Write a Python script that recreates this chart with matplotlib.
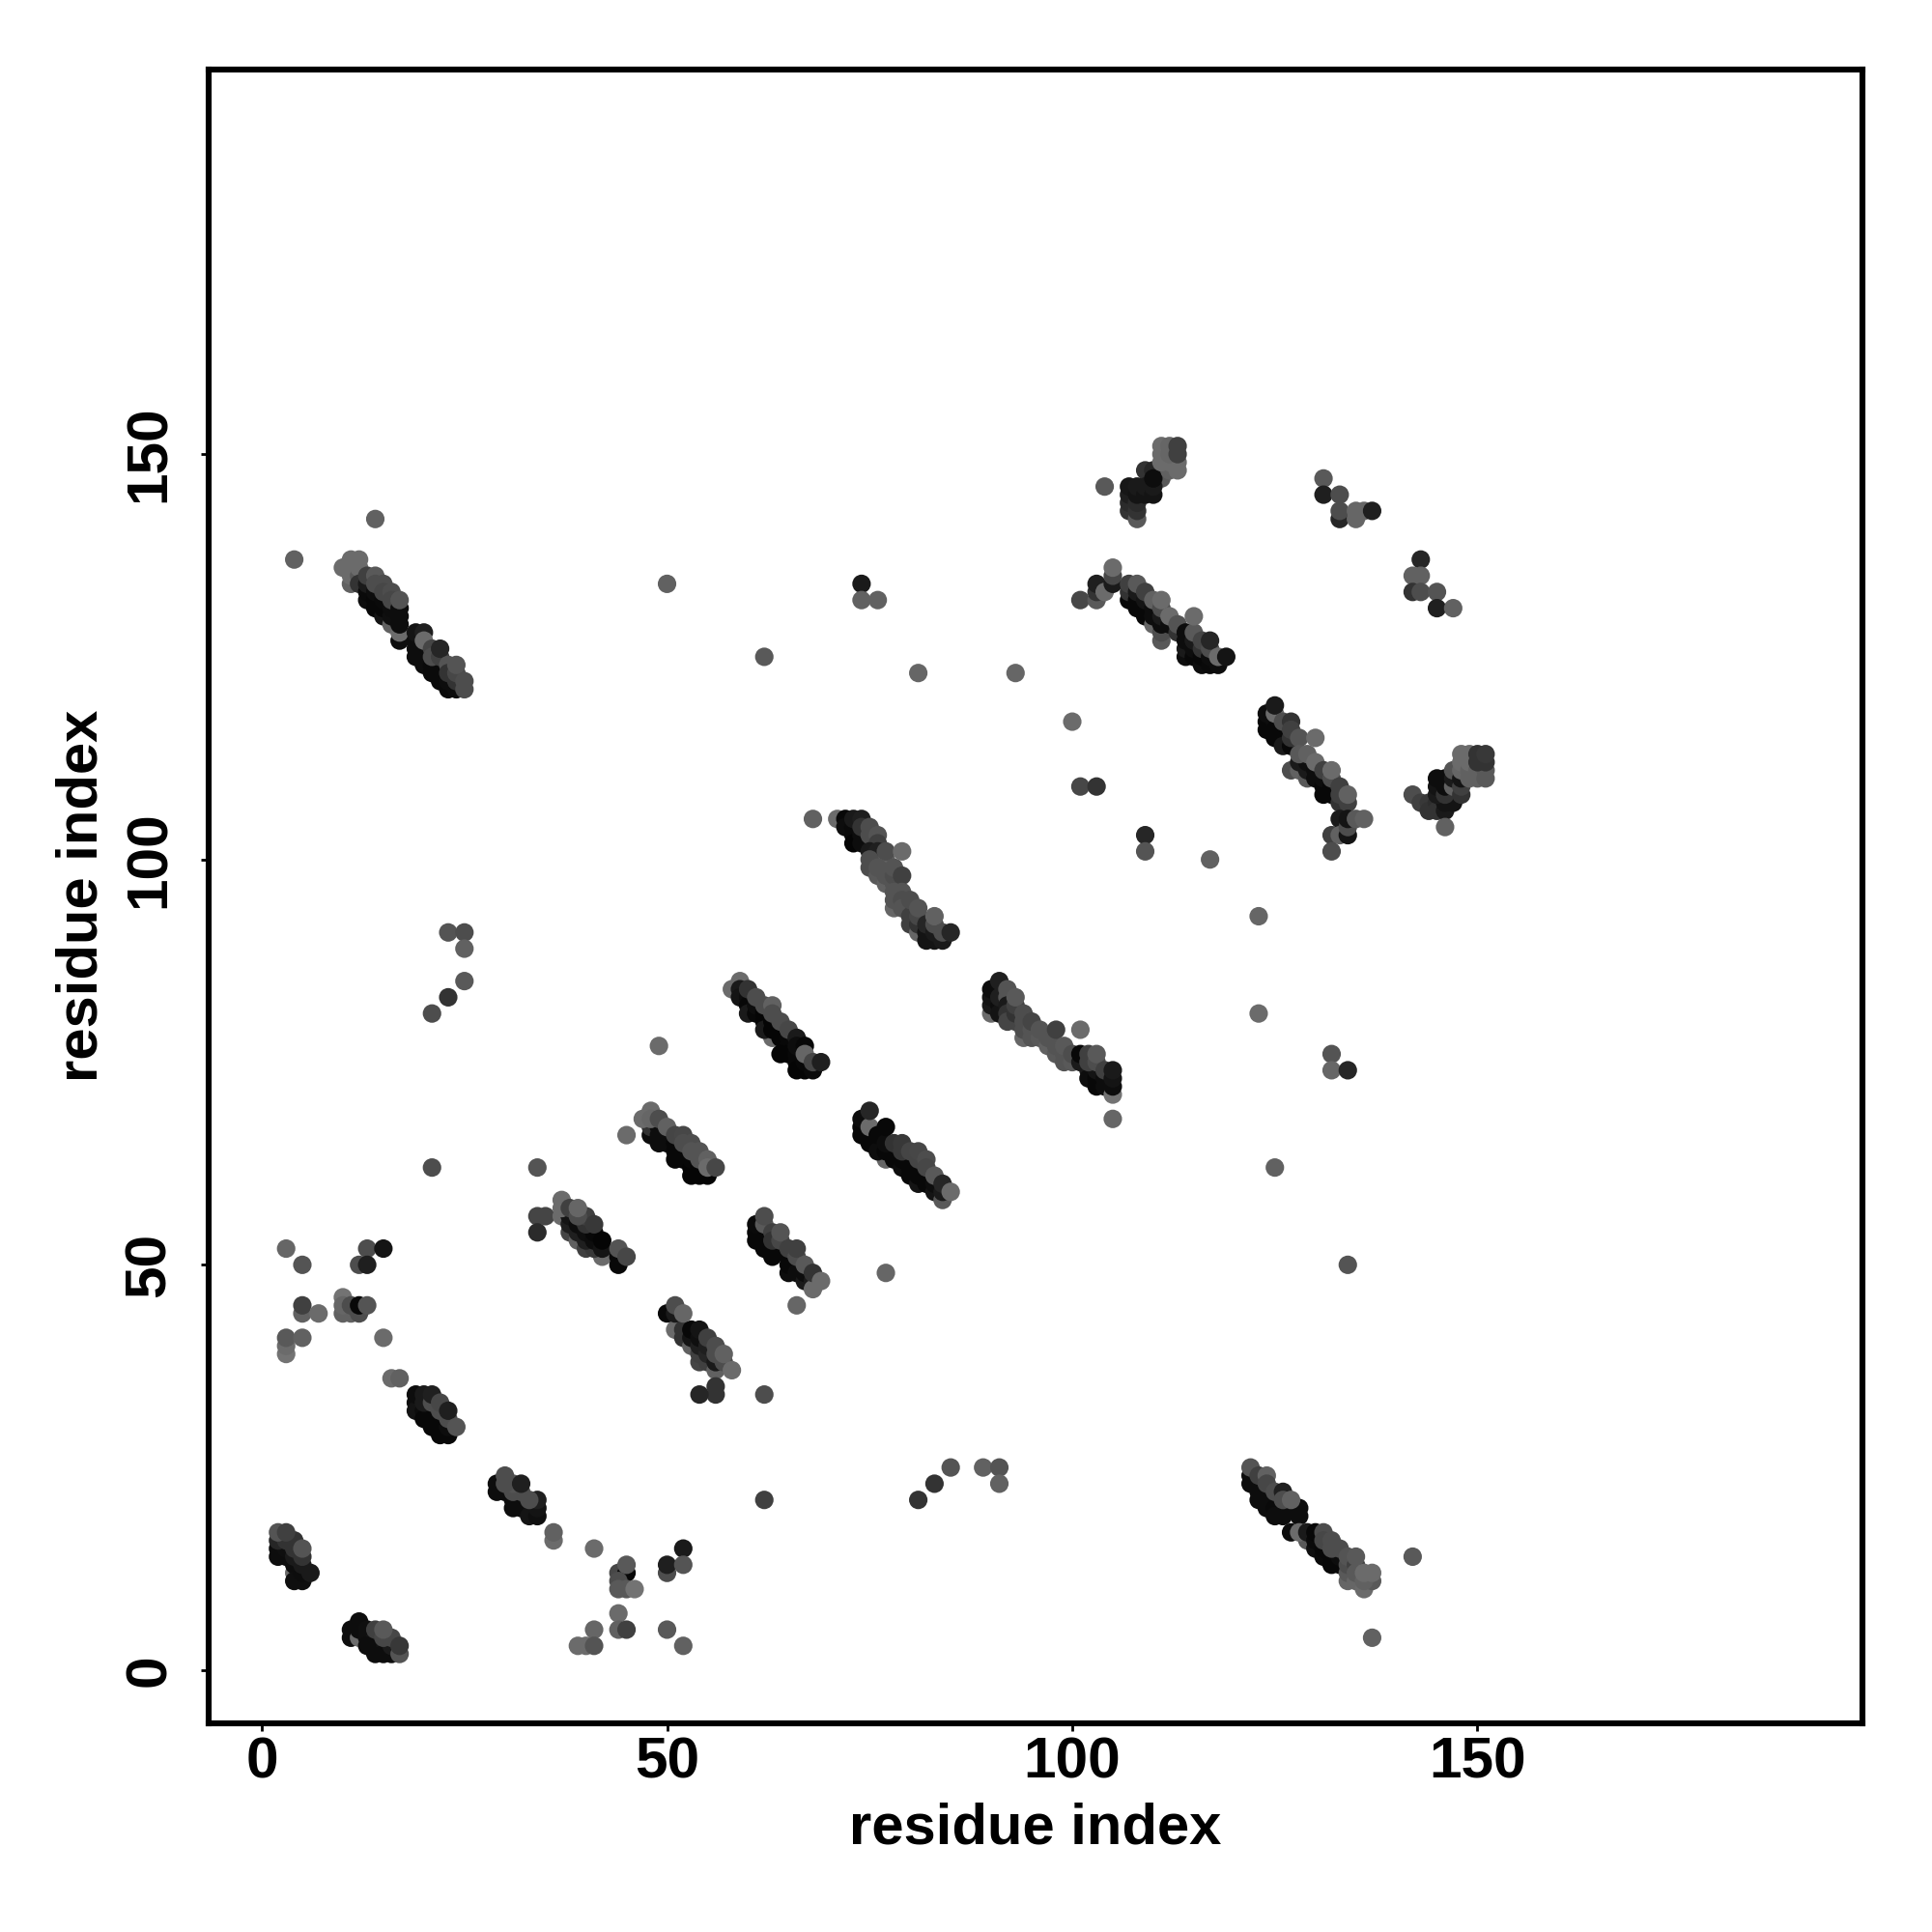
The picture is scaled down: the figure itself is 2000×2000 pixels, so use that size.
#!/usr/bin/env python3

import matplotlib
matplotlib.use('Agg')
import matplotlib.pyplot as plt

plt.rcParams['font.family'] = ['Liberation Sans', 'DejaVu Sans']

# (residue i, residue j, grey level), darker = stronger contact
singles = [
    (3, 52, .4), (5, 50, .33), (13, 52, .3), (15, 52, .08), (12, 50, .3), (13, 50, .12),
    (5, 44, .38), (5, 45, .25), (7, 44, .42), (10, 46, .45), (10, 44, .38), (11, 44, .38),
    (12, 44, .3), (10, 45, .4), (11, 45, .3), (12, 45, .03), (13, 45, .33),
    (3, 39, .45), (3, 40, .42), (3, 41, .35), (5, 41, .38), (15, 41, .42),
    (16, 36, .42), (17, 36, .38), (36, 16, .42), (36, 17, .38), (41, 15, .42),
    (44, 12, .28), (45, 12, .03), (44, 11, .3), (44, 10, .35), (45, 10, .35), (46, 10, .45), (45, 13, .35),
    (44, 7, .42), (44, 5, .38), (45, 5, .25), (41, 5, .4), (39, 3, .42), (40, 3, .42), (41, 3, .33),
    (50, 5, .35), (52, 3, .38), (52, 15, .1), (50, 12, .3), (50, 13, .12), (52, 13, .33),
    (21, 62, .3), (34, 62, .33), (34, 56, .27), (35, 56, .27), (34, 54, .17),
    (45, 66, .42), (62, 34, .3), (77, 49, .4), (66, 45, .4), (49, 77, .42),
    (4, 137, .38), (14, 142, .38), (50, 134, .38), (62, 125, .35), (74, 134, .1), (74, 132, .38),
    (76, 132, .38), (81, 123, .4), (93, 123, .4), (100, 117, .42), (101, 109, .28), (103, 109, .2),
    (109, 103, .15), (109, 101, .33), (117, 100, .38), (68, 105, .38), (123, 93, .4), (123, 81, .42),
    (132, 76, .33), (132, 74, .4), (134, 74, .15), (125, 62, .38), (134, 50, .33),
    (23, 91, .33), (25, 91, .3), (25, 89, .38), (25, 85, .35), (21, 81, .3), (23, 83, .2),
    (62, 21, .25), (81, 21, .2), (83, 23, .2), (85, 25, .33), (89, 25, .38), (91, 25, .33), (91, 23, .38),
    (131, 147, .35), (131, 145, .12), (133, 145, .3), (133, 142, .15), (133, 143, .3), (135, 143, .4),
    (135, 142, .4), (136, 143, .4), (137, 143, .12),
    (143, 137, .15), (142, 135, .38), (143, 135, .38), (142, 133, .2), (143, 133, .3), (145, 133, .33),
    (145, 131, .12), (147, 131, .38), (142, 14, .35), (137, 4, .38), (104, 146, .35),
]

band_a = [
    (4, 12, .42), (2, 14, .05), (3, 14, .05), (2, 15, .05), (3, 15, .06), (4, 13, .05), (4, 11, .06),
    (5, 11, .06), (5, 12, .05), (6, 12, .1), (5, 13, .1), (4, 14, .1), (5, 14, .2), (2, 16, .15),
    (3, 16, .2), (4, 15, .2), (4, 16, .2), (2, 17, .33), (3, 17, .25), (5, 15, .33),
]
band_b = [
    (11, 5, .05), (11, 4, .05), (12, 4, .42), (12, 5, .05), (12, 6, .05), (13, 5, .06), (13, 4, .06),
    (14, 3, .05), (14, 2, .05), (15, 2, .05), (15, 3, .05), (16, 2, .05), (16, 3, .1), (14, 4, .08),
    (13, 3, .05), (14, 5, .25), (15, 4, .28), (16, 4, .28), (15, 5, .35), (17, 2, .33), (17, 3, .22),
]
band_c = [
    (19, 33, .05), (19, 32, .08), (20, 32, .05), (20, 31, .03), (21, 31, .03), (21, 30, .03), (22, 30, .03),
    (22, 29, .03), (23, 29, .03), (23, 30, .05), (19, 34, .05), (20, 33, .1), (20, 34, .1), (21, 33, .3),
    (21, 34, .12), (22, 32, .3), (22, 33, .28), (23, 31, .3), (23, 32, .12), (24, 30, .33),
]
band_d = [
    (29, 22, .05), (30, 22, .05), (29, 23, .05), (31, 21, .05), (31, 20, .05), (32, 20, .05), (32, 21, .05),
    (33, 20, .05), (33, 19, .08), (34, 19, .06), (34, 20, .08), (34, 21, .12), (33, 21, .3), (32, 22, .3),
    (31, 22, .3), (31, 23, .33), (30, 23, .3), (30, 24, .3), (32, 23, .12),
]
band_e = [
    (37, 56, .42), (38, 54, .27), (39, 53, .38), (42, 51, .42), (40, 52, .25), (41, 52, .22), (38, 55, .12),
    (38, 56, .08), (39, 54, .12), (39, 55, .05), (40, 53, .12), (40, 54, .06), (41, 53, .05), (41, 54, .03),
    (42, 52, .08), (42, 53, .02), (40, 55, .2), (40, 56, .25), (41, 55, .22), (37, 57, .42),
    (37, 58, .42), (38, 57, .25), (39, 56, .3), (39, 57, .4), (44, 50, .03), (44, 51, .03), (44, 52, .33), (45, 51, .28),
]
band_f = [
    (48, 66, .05), (48, 67, .2), (49, 67, .05), (49, 66, .05), (49, 65, .05), (50, 65, .05), (50, 66, .05),
    (51, 65, .03), (51, 64, .03), (51, 63, .03), (52, 63, .03), (52, 64, .03), (53, 61, .02), (53, 62, .02),
    (53, 63, .03), (54, 61, .02), (54, 62, .02), (55, 61, .02), (47, 68, .42), (48, 69, .42), (48, 68, .4),
    (49, 68, .3), (50, 67, .38), (51, 66, .27), (52, 66, .28), (52, 65, .3), (53, 65, .3), (53, 64, .33),
    (54, 63, .33), (54, 64, .33), (55, 63, .38), (55, 62, .42), (56, 62, .28),
]
band_g = [
    (51, 42, .42), (52, 42, .2), (52, 41, .2), (53, 40, .38), (53, 41, .08), (54, 38, .27), (54, 39, .25),
    (53, 42, .03), (54, 40, .12), (54, 41, .06), (54, 42, .08), (55, 38, .25), (55, 39, .15), (55, 40, .12),
    (56, 37, .38), (55, 41, .25), (56, 38, .1), (56, 39, .3), (56, 40, .3), (57, 38, .3), (57, 39, .38),
    (58, 37, .42), (50, 44, .04), (51, 44, .1), (51, 45, .3), (52, 44, .4), (56, 35, .2), (56, 34, .2), (54, 34, .15),
]
band_h = [
    (58, 84, .42), (59, 85, .42), (63, 78, .42), (59, 84, .1), (59, 83, .08), (60, 83, .05), (60, 82, .03),
    (60, 81, .1), (61, 81, .03), (61, 82, .05), (62, 81, .02), (62, 80, .02), (62, 79, .1), (63, 79, .02),
    (63, 80, .02), (64, 78, .02), (64, 79, .02), (65, 78, .03), (65, 77, .03), (64, 76, .02), (65, 76, .02),
    (66, 76, .03), (66, 75, .03), (66, 74, .02), (67, 74, .02), (67, 75, .03), (68, 74, .04), (60, 84, .2),
    (61, 83, .3), (62, 82, .3), (63, 82, .38), (63, 81, .3), (64, 80, .3), (65, 79, .28), (66, 78, .1),
    (66, 77, .05), (67, 77, .03), (67, 76, .4), (68, 75, .27), (69, 75, .12),
]
band_i = [
    (77, 63, .4), (74, 66, .03), (74, 67, .03), (74, 68, .05), (75, 66, .03), (75, 65, .03), (76, 65, .03),
    (76, 64, .05), (77, 64, .03), (78, 63, .03), (78, 64, .03), (79, 62, .05),
    (79, 63, .03), (80, 61, .03), (80, 62, .03), (81, 60, .08), (81, 61, .03), (82, 60, .03), (83, 59, .08),
    (83, 60, .05), (84, 58, .35), (84, 59, .1), (75, 67, .42), (75, 69, .15), (76, 66, .03), (77, 65, .05),
    (77, 67, .03), (78, 65, .2), (79, 65, .22), (79, 64, .22), (80, 64, .27), (81, 63, .27), (81, 64, .28),
    (82, 63, .3), (82, 62, .28), (83, 61, .35), (84, 60, .15), (85, 59, .42),
]
band_j = [
    (61, 53, .03), (61, 54, .03), (61, 55, .04), (62, 52, .03), (62, 53, .03), (63, 51, .03), (63, 52, .03),
    (64, 52, .03), (65, 49, .05), (65, 50, .03), (65, 51, .03), (66, 50, .03), (66, 49, .05), (67, 48, .1),
    (67, 49, .05), (68, 48, .1), (68, 47, .42), (62, 55, .35), (62, 56, .3), (63, 54, .25), (63, 53, .2),
    (64, 53, .28), (64, 54, .33), (65, 52, .25), (66, 51, .3), (66, 52, .25), (67, 50, .35), (68, 49, .2), (69, 48, .42),
]
band_k = [
    (71, 105, .42), (72, 105, .03), (72, 104, .05), (73, 104, .04), (73, 103, .04), (73, 102, .02), (74, 102, .05),
    (74, 103, .05), (73, 105, .1), (74, 105, .12), (74, 104, .2), (75, 104, .3), (75, 103, .3), (76, 103, .33),
    (76, 102, .25), (75, 101, .1), (76, 101, .12), (77, 100, .38), (77, 101, .3), (75, 99, .3), (75, 100, .3),
    (76, 98, .35), (76, 99, .33), (77, 97, .38), (77, 98, .33), (78, 97, .33), (78, 98, .3), (78, 99, .33),
    (79, 98, .25), (78, 94, .4), (78, 95, .33), (78, 96, .33), (79, 101, .42), (79, 96, .33), (79, 95, .3),
    (79, 94, .33), (80, 93, .25), (80, 92, .25), (80, 95, .3), (81, 91, .4), (81, 92, .2), (81, 93, .28),
    (81, 94, .33), (82, 91, .08), (82, 90, .08), (82, 92, .15), (83, 90, .08), (83, 91, .1), (83, 92, .3),
    (83, 93, .38), (84, 90, .1), (84, 91, .3), (85, 91, .15),
]
band_l = [
    (90, 81, .42), (90, 82, .1), (90, 83, .08), (90, 84, .05), (91, 82, .05), (91, 81, .08), (91, 83, .12),
    (91, 85, .12), (92, 84, .33), (92, 83, .33), (92, 82, .1), (92, 81, .2), (92, 80, .27), (93, 80, .27),
    (93, 81, .2), (93, 82, .25), (93, 83, .35), (94, 78, .4), (94, 79, .3), (94, 80, .3), (94, 81, .3),
    (95, 78, .33), (95, 79, .33), (95, 80, .27), (96, 78, .35), (96, 79, .33), (97, 77, .38), (97, 78, .33),
    (98, 76, .35), (98, 77, .33), (98, 79, .25), (99, 75, .33), (99, 76, .33), (99, 77, .35), (100, 75, .35),
    (100, 76, .3), (101, 75, .1), (101, 79, .42), (101, 76, .03), (102, 74, .1), (102, 73, .05), (103, 72, .03),
    (103, 73, .03), (103, 74, .08), (104, 72, .05), (104, 73, .05), (102, 75, .25), (102, 76, .25), (103, 75, .3),
    (103, 76, .35), (104, 74, .25), (105, 71, .45), (105, 72, .05), (105, 73, .08), (105, 74, .1), (105, 68, .4),
]
band_m = [
    (122, 23, .05), (122, 24, .05), (123, 22, .05), (123, 21, .05), (124, 21, .05), (124, 20, .05), (125, 20, .04),
    (125, 19, .05), (126, 19, .05), (127, 20, .05), (128, 19, .05), (128, 20, .05), (127, 17, .05), (129, 16, .35),
    (128, 17, .42), (129, 17, .1), (130, 15, .06), (130, 16, .04), (130, 17, .03), (131, 14, .04), (131, 15, .03),
    (132, 13, .03), (132, 14, .03), (133, 13, .03), (133, 14, .05), (134, 11, .4), (134, 12, .35), (135, 11, .4),
    (122, 25, .33), (123, 24, .25), (124, 24, .38), (124, 23, .28), (125, 22, .3), (126, 22, .12), (126, 21, .3),
    (127, 21, .38), (131, 17, .3), (131, 16, .28), (132, 16, .3), (132, 15, .3), (133, 15, .3), (134, 13, .3), (134, 14, .33),
    (135, 13, .25), (135, 14, .35), (135, 12, .35), (136, 10, .42), (137, 11, .35), (136, 11, .38), (136, 12, .42), (137, 12, .42),
]
band_n = [
    (124, 116, .03), (124, 117, .03), (124, 118, .05), (125, 117, .05), (125, 116, .03), (125, 115, .03),
    (126, 115, .03), (126, 114, .1), (127, 114, .03), (127, 115, .2), (125, 118, .42), (125, 119, .1),
    (126, 117, .3), (127, 117, .2), (127, 116, .25), (128, 115, .33), (127, 111, .3), (128, 111, .38),
    (129, 110, .35), (128, 112, .1), (129, 111, .1), (129, 112, .06), (130, 110, .05), (130, 111, .05), (131, 108, .03),
    (131, 109, .03), (131, 110, .05), (132, 108, .03), (132, 109, .03), (130, 115, .42), (128, 113, .35), (129, 113, .38),
    (130, 112, .42), (131, 111, .25), (132, 110, .3), (132, 111, .42), (133, 107, .2), (133, 108, .25), (133, 109, .25),
    (134, 107, .25), (134, 108, .38), (132, 103, .25), (133, 105, .1), (133, 103, .38), (134, 103, .08), (134, 104, .3),
    (134, 105, .08), (135, 105, .35), (136, 105, .38), (132, 101, .3),
]
band_o = [
    (142, 108, .3), (143, 107, .25), (144, 107, .22), (144, 106, .2), (145, 107, .18), (145, 106, .2),
    (146, 106, .1), (146, 104, .38), (146, 107, .08), (147, 107, .08), (145, 108, .1), (145, 109, .08), (145, 110, .05),
    (146, 108, .2), (146, 109, .05), (146, 110, .05), (147, 109, .38), (147, 110, .1), (147, 111, .33),
    (148, 108, .2), (148, 109, .25), (148, 110, .08), (148, 111, .4), (148, 112, .42), (148, 113, .42), (149, 110, .38),
    (149, 111, .38), (149, 112, .42), (149, 113, .42), (150, 110, .38), (150, 111, .38), (151, 110, .35), (151, 111, .35),
    (150, 112, .2), (151, 112, .2), (150, 113, .2), (151, 113, .22),
]
band_p = [
    (101, 132, .28), (103, 132, .35), (103, 133, .2), (103, 134, .12), (104, 133, .42), (105, 134, .1), (105, 135, .28), (105, 136, .42),
    (107, 132, .03), (107, 133, .2), (107, 134, .25), (108, 131, .03), (108, 132, .03), (108, 133, .1), (108, 134, .35),
    (109, 130, .03), (109, 131, .03), (109, 132, .08), (109, 133, .25), (110, 129, .4), (110, 130, .05), (110, 131, .05),
    (111, 127, .35), (111, 128, .3), (111, 129, .05), (111, 130, .1), (110, 132, .38), (111, 131, .3), (111, 132, .42),
    (112, 129, .05), (112, 130, .42), (113, 128, .2), (113, 129, .33), (114, 125, .05), (114, 126, .1), (114, 127, .05),
    (114, 128, .05), (115, 125, .03), (115, 126, .05), (115, 127, .1), (115, 128, .35), (115, 130, .42), (116, 124, .05),
    (116, 125, .03), (116, 126, .2), (116, 127, .27), (117, 124, .04), (117, 125, .05), (117, 126, .3), (117, 127, .15),
    (118, 124, .05), (118, 125, .42), (119, 125, .08),
]
band_q = [
    (111, 147, .35), (109, 148, .2), (110, 148, .15), (107, 143, .2), (108, 142, .35), (107, 144, .17), (107, 145, .12),
    (107, 146, .09), (108, 143, .2), (108, 144, .17), (108, 145, .08), (108, 146, .1), (109, 145, .08), (109, 146, .1),
    (110, 145, .08), (110, 146, .1), (110, 147, .05), (112, 148, .38), (113, 148, .42), (112, 149, .42), (113, 149, .42),
    (111, 149, .42), (111, 150, .42), (111, 151, .42), (112, 150, .4), (112, 151, .4), (113, 150, .25), (113, 151, .25),
]
band_r = [
    (10, 136, .42), (11, 137, .42), (11, 134, .38), (11, 135, .42), (11, 136, .42), (12, 135, .35), (12, 136, .42), (12, 137, .42),
    (12, 134, .2), (13, 132, .05), (13, 133, .04), (13, 134, .1), (14, 131, .03), (14, 132, .03), (14, 133, .05),
    (15, 130, .08), (15, 131, .03), (15, 132, .04), (13, 135, .25), (14, 135, .35), (14, 134, .3), (15, 134, .3), (15, 133, .28),
    (16, 129, .38), (16, 130, .06), (16, 131, .05), (16, 133, .3), (16, 132, .28), (17, 127, .05), (17, 128, .42), (17, 129, .05),
    (17, 130, .05), (17, 131, .05), (17, 132, .33),
    (19, 125, .05), (19, 126, .05), (19, 127, .05), (20, 124, .05), (20, 125, .05), (21, 123, .04), (21, 124, .04),
    (22, 122, .04), (22, 123, .04), (23, 121, .04), (23, 122, .05), (24, 121, .05), (19, 128, .08), (20, 128, .12),
    (20, 127, .42), (21, 126, .27), (21, 125, .3), (22, 125, .25), (22, 126, .15), (23, 124, .33), (23, 123, .2),
    (24, 122, .2), (24, 123, .28), (24, 124, .33), (25, 121, .3), (25, 122, .3),
]

bands = [singles, band_a, band_b, band_c, band_d, band_e, band_f, band_g, band_h, band_i,
         band_j, band_k, band_l, band_m, band_n, band_o, band_p, band_q, band_r]

ticks = [0, 50, 100, 150]

fig = plt.figure(figsize=(20, 20), dpi=100)
ax = fig.add_axes([216/2000, 1-1784/2000, (1928-216)/2000, (1784-71.5)/2000])

for band in bands:
    xs = [p[0] for p in band]
    ys = [p[1] for p in band]
    cs = [(p[2], p[2], p[2]) for p in band]
    ax.scatter(xs, ys, s=190, c=cs, linewidths=0, zorder=3)

ax.set_xlim(-6.56, 197.5)
ax.set_ylim(-6.56, 197.5)
ax.set_xticks(ticks)
ax.set_yticks(ticks)
ax.set_xticklabels([str(t) for t in ticks], fontsize=43.5, fontweight='bold')
ax.set_yticklabels([str(t) for t in ticks], fontsize=43.5, fontweight='bold', rotation=90, va='center')
ax.tick_params(axis='x', length=6, width=2, color='k', pad=4)
ax.tick_params(axis='y', length=6, width=2, color='k', pad=18)
for s in ax.spines.values():
    s.set_linewidth(4.4)

ax.set_xlabel('residue index', fontsize=43, fontweight='bold', labelpad=9)
ax.set_ylabel('residue index', fontsize=43, fontweight='bold', labelpad=11)

fig.savefig('out.png', dpi=100, facecolor='white')
